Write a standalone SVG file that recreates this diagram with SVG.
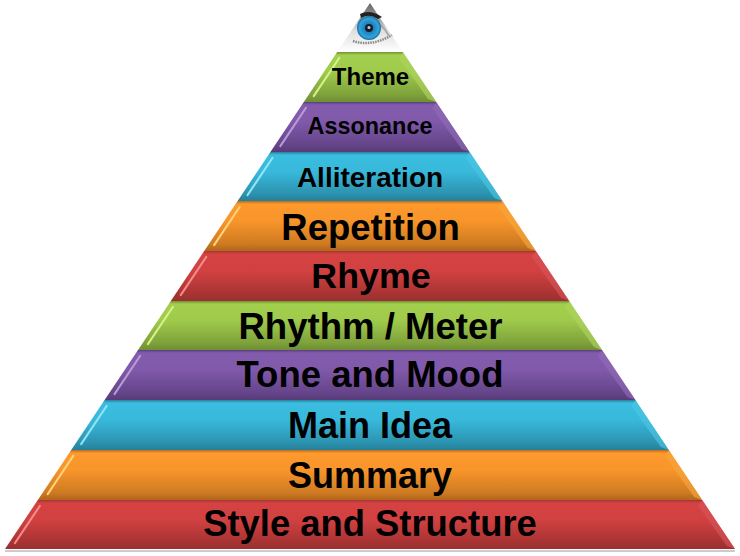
<svg xmlns="http://www.w3.org/2000/svg" width="740" height="556" viewBox="0 0 740 556">
<style>
text{font-family:"Liberation Sans",Arial,sans-serif;font-weight:700;fill:#000;text-anchor:middle}
.red .b{fill:url(#gr)}.org .b{fill:url(#go)}.blu .b{fill:url(#gb)}.pur .b{fill:url(#gp)}.grn .b{fill:url(#gg)}
.red .h{stroke:#f58a8a}.org .h{stroke:#ffd27a}.blu .h{stroke:#8fe4f5}.pur .h{stroke:#b79ad6}.grn .h{stroke:#d6f08c}
.red .r{fill:#d9535a}.org .r{fill:#f7a63a}.blu .r{fill:#4cc6e2}.pur .r{fill:#8f6cb6}.grn .r{fill:#aed45e}
.h{stroke-width:2.200;stroke-linecap:round;fill:none;filter:url(#soft)}.r{opacity:.65;filter:url(#soft)}
</style>
<defs>
<filter id="soft" x="-20%" y="-20%" width="140%" height="140%"><feGaussianBlur stdDeviation=".5"/></filter>
<linearGradient id="gr" x1="0" y1="0" x2="0" y2="1"><stop offset="0" stop-color="#a83434"/><stop offset=".06" stop-color="#d44242"/><stop offset=".4" stop-color="#d24141"/><stop offset=".85" stop-color="#a93333"/><stop offset="1" stop-color="#983030"/></linearGradient>
<linearGradient id="go" x1="0" y1="0" x2="0" y2="1"><stop offset="0" stop-color="#b86c1e"/><stop offset=".06" stop-color="#fd992d"/><stop offset=".4" stop-color="#f8952b"/><stop offset=".85" stop-color="#cf7b22"/><stop offset="1" stop-color="#b0661c"/></linearGradient>
<linearGradient id="gb" x1="0" y1="0" x2="0" y2="1"><stop offset="0" stop-color="#277f98"/><stop offset=".06" stop-color="#3abde0"/><stop offset=".4" stop-color="#38b9dc"/><stop offset=".85" stop-color="#2c93b0"/><stop offset="1" stop-color="#267f98"/></linearGradient>
<linearGradient id="gp" x1="0" y1="0" x2="0" y2="1"><stop offset="0" stop-color="#5c3f80"/><stop offset=".06" stop-color="#845cae"/><stop offset=".4" stop-color="#8059aa"/><stop offset=".85" stop-color="#65458a"/><stop offset="1" stop-color="#573c78"/></linearGradient>
<linearGradient id="gg" x1="0" y1="0" x2="0" y2="1"><stop offset="0" stop-color="#6f8f33"/><stop offset=".06" stop-color="#a3cf4e"/><stop offset=".4" stop-color="#9fca4b"/><stop offset=".85" stop-color="#7fa23b"/><stop offset="1" stop-color="#6f8e34"/></linearGradient>
<linearGradient id="gw" x1="0" y1="0" x2="0" y2="1"><stop offset="0" stop-color="#666"/><stop offset=".3" stop-color="#999"/><stop offset=".55" stop-color="#ddd"/><stop offset=".85" stop-color="#f4f4f4"/><stop offset="1" stop-color="#fff"/></linearGradient>
<radialGradient id="iris" cx=".5" cy=".5" r=".5"><stop offset="0" stop-color="#0d3f63"/><stop offset=".35" stop-color="#1f7fb8"/><stop offset=".8" stop-color="#2fa4dc"/><stop offset="1" stop-color="#1a6c9c"/></radialGradient>
</defs>
<polygon points="5,550 735,550 735,552 5,552" fill="#ccc"/>
<g id="node-eye">
<polygon points="370,3 402.8,52 337.2,52" fill="url(#gw)"/>
<path d="M360 14 Q370 9 382 17 L378 19 Q369 13 361 18Z" fill="#222" filter="url(#soft)"/>
<path d="M353 41 Q372 47 392 35" fill="none" stroke="#888" stroke-width="2.500" stroke-dasharray="1.500 1" filter="url(#soft)"/>
<path d="M380 24 Q386 30 389 36" fill="none" stroke="#aaa" stroke-width="2" filter="url(#soft)"/>
<circle cx="369" cy="28" r="12" fill="url(#iris)"/>
<circle cx="369" cy="28" r="4" fill="#1a1a2a"/>
<circle cx="369" cy="27.500" r="1.500" fill="#ccc"/>
</g>
<g id="node-theme" class="grn"><polygon class="b" points="337.2,52 402.8,52 436.2,102 303.800,102"/><polygon class="r" points="402.8,52 436.2,102 428,99 399,58"/><line class="h" x1="339.2" y1="58" x2="313.8" y2="96"/><text x="370.500" y="85" font-size="24">Theme</text></g>
<g id="node-assonance" class="pur"><polygon class="b" points="303.8,102 436.2,102 469.6,152 270.4,152"/><polygon class="r" points="436.2,102 469.6,152 461.6,149 432.2,108"/><line class="h" x1="305.8" y1="108" x2="280.4" y2="146"/><text x="370" y="134" font-size="23.400">Assonance</text></g>
<g id="node-alliteration" class="blu"><polygon class="b" points="270.4,152 469.6,152 502.4,201 237.6,201"/><polygon class="r" points="469.6,152 502.4,201 494.4,198 465.6,158"/><line class="h" x1="272.4" y1="158" x2="247.6" y2="195"/><text x="370" y="187" font-size="28">Alliteration</text></g>
<g id="node-repetition" class="org"><polygon class="b" points="237.6,201 502.4,201 535.8,251 204.2,251"/><polygon class="r" points="502.4,201 535.8,251 527.8,248 498.4,207"/><line class="h" x1="239.6" y1="207" x2="214.2" y2="245"/><text x="370.500" y="240" font-size="36.500">Repetition</text></g>
<g id="node-rhyme" class="red"><polygon class="b" points="204.2,251 535.8,251 569.2,301 170.8,301"/><polygon class="r" points="535.8,251 569.2,301 561.2,298 531.8,257"/><line class="h" x1="206.2" y1="257" x2="180.8" y2="295"/><text x="371" y="288" font-size="35.800">Rhyme</text></g>
<g id="node-rhythm" class="grn"><polygon class="b" points="170.8,301 569.2,301 602,350 138,350"/><polygon class="r" points="569.2,301 602,350 594,347 565.2,307"/><line class="h" x1="172.8" y1="307" x2="148" y2="344"/><text x="370.500" y="339" font-size="36.600">Rhythm / Meter</text></g>
<g id="node-tone" class="pur"><polygon class="b" points="138,350 602,350 635.4,400 104.6,400"/><polygon class="r" points="602,350 635.4,400 627.4,397 598,356"/><line class="h" x1="140" y1="356" x2="114.6" y2="394"/><text x="370" y="387" font-size="36.500">Tone and Mood</text></g>
<g id="node-main" class="blu"><polygon class="b" points="104.6,400 635.4,400 668.8,450 71.2,450"/><polygon class="r" points="635.4,400 668.8,450 660.8,447 631.4,406"/><line class="h" x1="106.6" y1="406" x2="81.2" y2="444"/><text x="370" y="438" font-size="36">Main Idea</text></g>
<g id="node-summary" class="org"><polygon class="b" points="71.2,450 668.8,450 702.2,500 37.8,500"/><polygon class="r" points="668.8,450 702.2,500 694.2,497 664.8,456"/><line class="h" x1="73.2" y1="456" x2="47.8" y2="494"/><text x="370" y="488" font-size="36">Summary</text></g>
<g id="node-style" class="red"><polygon class="b" points="37.8,500 702.2,500 735,549 5,549"/><polygon class="r" points="702.2,500 735,549 727,546 698.2,506"/><line class="h" x1="39.8" y1="506" x2="15" y2="543"/><text x="370" y="536" font-size="36.400">Style and Structure</text></g>
<g id="connectors"/>
</svg>
